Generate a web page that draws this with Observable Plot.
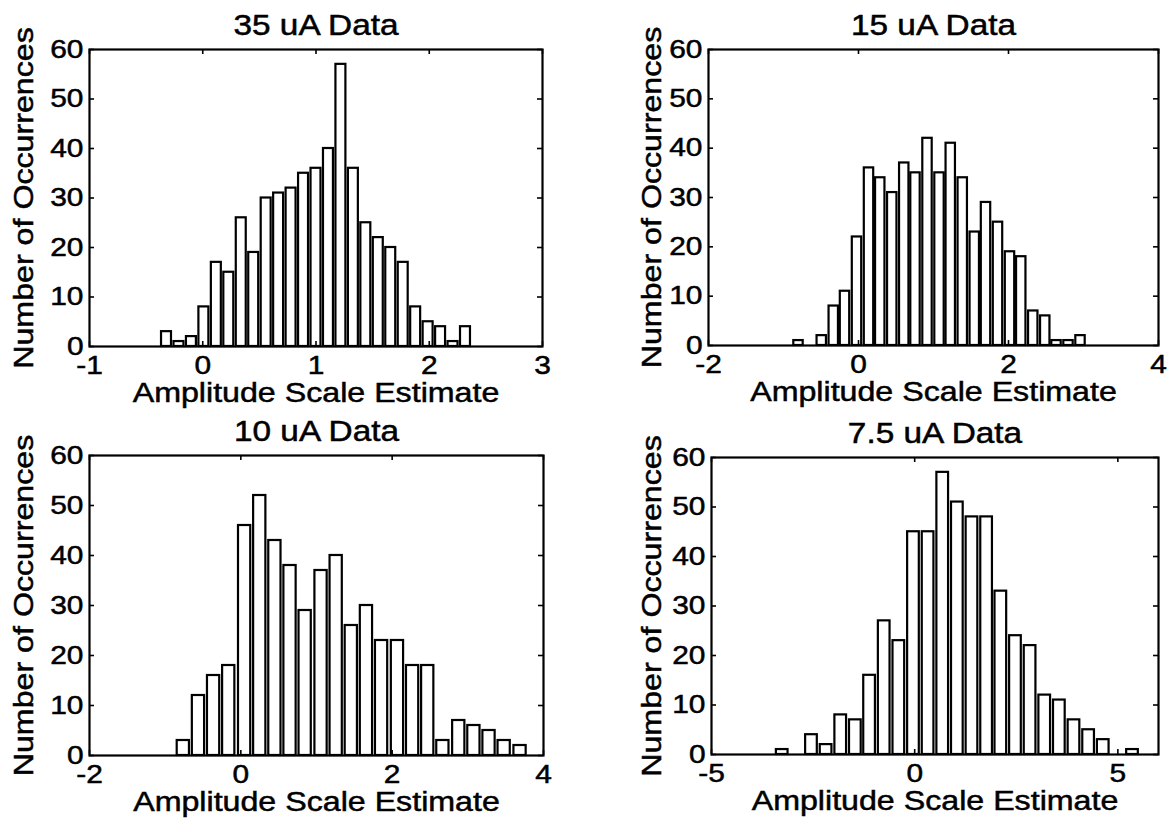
<!DOCTYPE html>
<html>
<head>
<meta charset="utf-8">
<script src="https://cdn.jsdelivr.net/npm/d3@7"></script>
<script src="https://cdn.jsdelivr.net/npm/@observablehq/plot@0.6"></script>
<style>
  body { margin: 0; background: #fff; }
  #wrap { position: relative; width: 1173px; height: 818px; background: #fff; }
  #wrap > svg { position: absolute; }
</style>
</head>
<body>
<div id="wrap"></div>
<script>
// ---- data ----
const yTicks = [0, 10, 20, 30, 40, 50, 60];

const title35 = "35 uA Data";
const xTicks35 = [-1, 0, 1, 2, 3];
const centers35 = [-0.32, -0.21, -0.10, 0.01, 0.12, 0.23, 0.34, 0.45, 0.56, 0.67, 0.78, 0.89, 1.00, 1.11, 1.22, 1.33, 1.44, 1.55, 1.66, 1.77, 1.88, 1.99, 2.10, 2.21, 2.32];
const counts35 = [3, 1, 2, 8, 17, 15, 26, 19, 30, 31, 32, 35, 36, 40, 57, 36, 25, 22, 20, 17, 8, 5, 4, 1, 4];

const title15 = "15 uA Data";
const xTicks15 = [-2, 0, 2, 4];
const centers15 = [-0.80, -0.65, -0.49, -0.33, -0.18, -0.02, 0.14, 0.29, 0.45, 0.61, 0.76, 0.92, 1.08, 1.23, 1.39, 1.55, 1.70, 1.86, 2.02, 2.17, 2.33, 2.49, 2.64, 2.80, 2.96];
const counts15 = [1, 0, 2, 8, 11, 22, 36, 34, 31, 37, 35, 42, 35, 41, 34, 23, 29, 25, 19, 18, 7, 6, 1, 1, 2];

const title10 = "10 uA Data";
const xTicks10 = [-2, 0, 2, 4];
const centers10 = [-0.76, -0.56, -0.36, -0.16, 0.05, 0.25, 0.45, 0.65, 0.85, 1.06, 1.26, 1.46, 1.66, 1.86, 2.07, 2.27, 2.47, 2.67, 2.88, 3.08, 3.28, 3.48, 3.69];
const counts10 = [3, 12, 16, 18, 46, 52, 43, 38, 29, 37, 40, 26, 30, 23, 23, 18, 18, 3, 7, 6, 5, 3, 2];

const title75 = "7.5 uA Data";
const xTicks75 = [-5, 0, 5];
const centers75 = [-3.26, -2.90, -2.54, -2.18, -1.82, -1.46, -1.11, -0.75, -0.39, -0.03, 0.33, 0.69, 1.05, 1.41, 1.77, 2.12, 2.48, 2.84, 3.20, 3.56, 3.92, 4.28, 4.64, 5.00, 5.36];
const counts75 = [1, 0, 4, 2, 8, 7, 16, 27, 23, 45, 45, 57, 51, 48, 48, 33, 24, 22, 12, 11, 7, 5, 3, 0, 1];

const xLabel = "Amplitude Scale Estimate";
const yLabel = "Number of Occurrences";

// ---- layout ----
const FONT = "'Liberation Sans', Arial, Helvetica, sans-serif";
const STRETCH = 1.15; // the reference's lettering is wide for its height

function panel(cfg) {
  const bars = cfg.centers.map((c, i) => ({c, n: cfg.counts[i]}));
  const bw = (cfg.centers[cfg.centers.length - 1] - cfg.centers[0]) / (cfg.centers.length - 1);
  const innerW = cfg.width - cfg.mL - cfg.mR;
  const innerH = cfg.height - cfg.mT - cfg.mB;
  const svg = Plot.plot({
    width: cfg.width,
    height: cfg.height,
    marginLeft: cfg.mL,
    marginRight: cfg.mR,
    marginTop: cfg.mT,
    marginBottom: cfg.mB,
    x: {domain: cfg.xDomain},
    y: {domain: [0, 60]},
    style: {fontFamily: FONT, background: "white", overflow: "visible", color: "black"},
    marks: [
      Plot.rectY(bars, {
        x1: d => d.c - 0.4 * bw,
        x2: d => d.c + 0.4 * bw,
        y: "n",
        fill: "white",
        stroke: "black",
        strokeWidth: 2.2
      }),
      Plot.frame({stroke: "black", strokeWidth: 2.2}),
      Plot.tickX(cfg.xTicks, {x: d => d, insetTop: innerH - 5, stroke: "black", strokeWidth: 1.6}),
      Plot.tickX(cfg.xTicks, {x: d => d, insetBottom: innerH - 5, stroke: "black", strokeWidth: 1.6}),
      Plot.tickY(yTicks, {y: d => d, insetRight: innerW - 5, stroke: "black", strokeWidth: 1.6}),
      Plot.tickY(yTicks, {y: d => d, insetLeft: innerW - 5, stroke: "black", strokeWidth: 1.6}),
      Plot.axisX(cfg.xTicks, {tickSize: 0, tickPadding: 9, fontSize: 26, label: null, tickFormat: d => String(d), fill: "black"}),
      Plot.axisY(yTicks, {tickSize: 0, tickPadding: 6, fontSize: 26, label: null, tickFormat: d => String(d), fill: "black"}),
      Plot.text([cfg.title], {text: d => d, frameAnchor: "top", textAnchor: "middle", lineAnchor: "middle", dy: -24, fontSize: 29, fill: "black"}),
      Plot.text([xLabel], {text: d => d, frameAnchor: "bottom", textAnchor: "middle", lineAnchor: "middle", dy: 47, fontSize: 28, fill: "black"}),
      Plot.text([yLabel], {text: d => d, frameAnchor: "left", textAnchor: "middle", lineAnchor: "middle", dx: cfg.ylDx, rotate: -90, fontSize: 28, fill: "black"})
    ]
  });
  // widen and slightly embolden the glyphs about their own anchor, as in the reference lettering
  svg.querySelectorAll("text").forEach(t => {
    const tr = t.getAttribute("transform") || "";
    t.setAttribute("transform", `${tr} scale(${STRETCH},1)`);
    t.style.stroke = "black";
    t.style.strokeWidth = "0.5px";
  });
  svg.style.left = cfg.left + "px";
  svg.style.top = cfg.top + "px";
  document.getElementById("wrap").appendChild(svg);
}

panel({title: title35, centers: centers35, counts: counts35, xTicks: xTicks35, xDomain: [-1, 3],
  left: 0, top: 0, width: 580, height: 410, mL: 89, mR: 38, mT: 49, mB: 64, ylDx: -65});
panel({title: title15, centers: centers15, counts: counts15, xTicks: xTicks15, xDomain: [-2, 4],
  left: 590, top: 0, width: 583, height: 410, mL: 118, mR: 15, mT: 49, mB: 65, ylDx: -56});
panel({title: title10, centers: centers10, counts: counts10, xTicks: xTicks10, xDomain: [-2, 4],
  left: 0, top: 410, width: 580, height: 408, mL: 89, mR: 37, mT: 45, mB: 63, ylDx: -65});
panel({title: title75, centers: centers75, counts: counts75, xTicks: xTicks75, xDomain: [-5, 6],
  left: 590, top: 410, width: 583, height: 408, mL: 121, mR: 15, mT: 47, mB: 64, ylDx: -59});
</script>
</body>
</html>
